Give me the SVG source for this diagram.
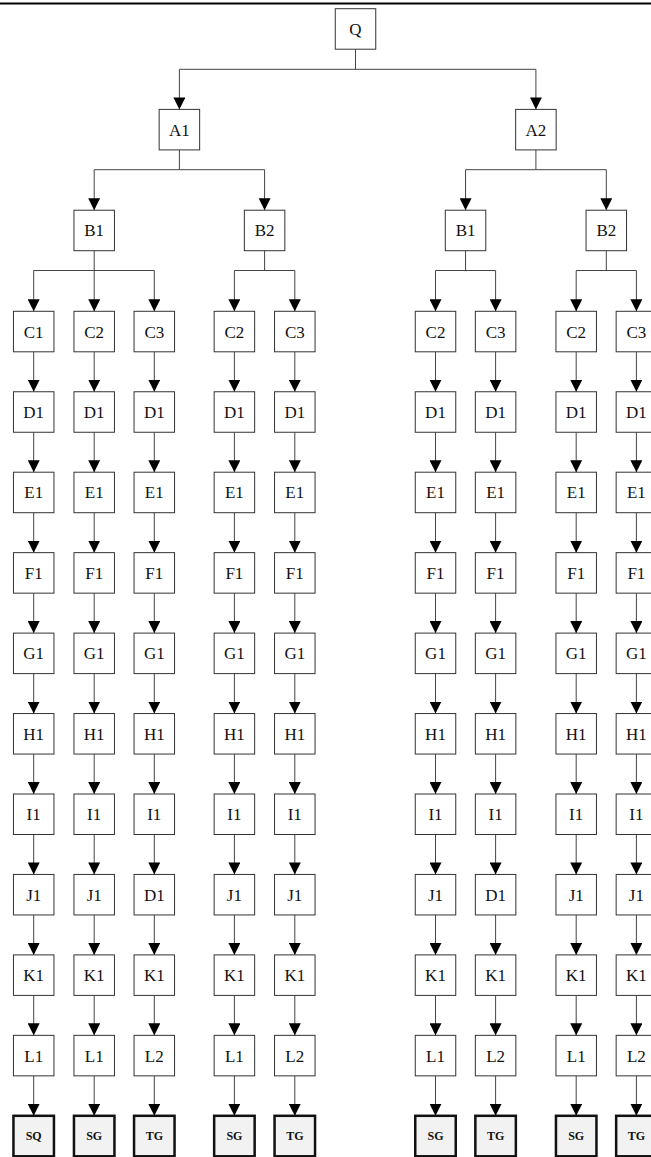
<svg xmlns="http://www.w3.org/2000/svg" width="651" height="1157" viewBox="0 0 651 1157">
<style>
.n rect{fill:#fff;stroke:#333;stroke-width:1}
.n text{font-family:"Liberation Serif","Times New Roman",serif;font-size:17px;text-anchor:middle;fill:#111}
.t rect{fill:#f2f2f2;stroke:#111;stroke-width:2.5}
.t text{font-family:"Liberation Serif","Times New Roman",serif;font-size:12px;font-weight:bold;text-anchor:middle;fill:#111}
.e line,.e path{stroke:#444;stroke-width:1;fill:none}
.e .a{marker-end:url(#ah)}
</style>
<defs>
<marker id="ah" viewBox="0 0 12 12" refX="12" refY="6" markerWidth="12" markerHeight="12" markerUnits="userSpaceOnUse" orient="auto">
<path d="M0,0 L12,6 L0,12 z" fill="#000"/>
</marker>
<rect id="bx" width="40.5" height="40.5"/>
</defs>
<line x1="0" y1="3.5" x2="651" y2="3.5" stroke="#000" stroke-width="2"/>
<g id="connectors" class="e">
<!-- Q to A -->
<path d="M355.5,49.2 V69.3 M179.4,69.3 H535.9"/>
<line class="a" x1="179.4" y1="69.3" x2="179.4" y2="109.4"/>
<line class="a" x1="535.9" y1="69.3" x2="535.9" y2="109.4"/>
<!-- A1 to B -->
<path d="M179.4,149.9 V169.7 M94.2,169.7 H264.6"/>
<line class="a" x1="94.2" y1="169.7" x2="94.2" y2="210.2"/>
<line class="a" x1="264.6" y1="169.7" x2="264.6" y2="210.2"/>
<!-- A2 to B -->
<path d="M535.9,149.9 V169.7 M465.55,169.7 H606.3"/>
<line class="a" x1="465.55" y1="169.7" x2="465.55" y2="210.2"/>
<line class="a" x1="606.3" y1="169.7" x2="606.3" y2="210.2"/>
<!-- B to C -->
<path d="M94.2,250.7 V270.5 M33.7,270.5 H154.3"/>
<line class="a" x1="33.7" y1="270.5" x2="33.7" y2="311.3"/>
<line class="a" x1="94.2" y1="270.5" x2="94.2" y2="311.3"/>
<line class="a" x1="154.3" y1="270.5" x2="154.3" y2="311.3"/>
<path d="M264.6,250.7 V270.5 M234.4,270.5 H294.8"/>
<line class="a" x1="234.4" y1="270.5" x2="234.4" y2="311.3"/>
<line class="a" x1="294.8" y1="270.5" x2="294.8" y2="311.3"/>
<path d="M465.55,250.7 V270.5 M435.5,270.5 H495.6"/>
<line class="a" x1="435.5" y1="270.5" x2="435.5" y2="311.3"/>
<line class="a" x1="495.6" y1="270.5" x2="495.6" y2="311.3"/>
<path d="M606.3,250.7 V270.5 M576.2,270.5 H636.4"/>
<line class="a" x1="576.2" y1="270.5" x2="576.2" y2="311.3"/>
<line class="a" x1="636.4" y1="270.5" x2="636.4" y2="311.3"/>
<!-- chains: one group per column, offset by translate -->
<g id="chain1" transform="translate(33.7,0)">
<line class="a" x1="0" y1="351.8" x2="0" y2="391.75"/>
<line class="a" x1="0" y1="432.25" x2="0" y2="472.2"/>
<line class="a" x1="0" y1="512.7" x2="0" y2="552.65"/>
<line class="a" x1="0" y1="593.15" x2="0" y2="633.1"/>
<line class="a" x1="0" y1="673.6" x2="0" y2="713.55"/>
<line class="a" x1="0" y1="754.05" x2="0" y2="794"/>
<line class="a" x1="0" y1="834.5" x2="0" y2="874.45"/>
<line class="a" x1="0" y1="914.95" x2="0" y2="954.9"/>
<line class="a" x1="0" y1="995.4" x2="0" y2="1035.35"/>
<line class="a" x1="0" y1="1075.85" x2="0" y2="1115.8"/>
</g>
<g transform="translate(94.2,0)">
<line class="a" x1="0" y1="351.8" x2="0" y2="391.75"/>
<line class="a" x1="0" y1="432.25" x2="0" y2="472.2"/>
<line class="a" x1="0" y1="512.7" x2="0" y2="552.65"/>
<line class="a" x1="0" y1="593.15" x2="0" y2="633.1"/>
<line class="a" x1="0" y1="673.6" x2="0" y2="713.55"/>
<line class="a" x1="0" y1="754.05" x2="0" y2="794"/>
<line class="a" x1="0" y1="834.5" x2="0" y2="874.45"/>
<line class="a" x1="0" y1="914.95" x2="0" y2="954.9"/>
<line class="a" x1="0" y1="995.4" x2="0" y2="1035.35"/>
<line class="a" x1="0" y1="1075.85" x2="0" y2="1115.8"/>
</g>
<g transform="translate(154.3,0)">
<line class="a" x1="0" y1="351.8" x2="0" y2="391.75"/>
<line class="a" x1="0" y1="432.25" x2="0" y2="472.2"/>
<line class="a" x1="0" y1="512.7" x2="0" y2="552.65"/>
<line class="a" x1="0" y1="593.15" x2="0" y2="633.1"/>
<line class="a" x1="0" y1="673.6" x2="0" y2="713.55"/>
<line class="a" x1="0" y1="754.05" x2="0" y2="794"/>
<line class="a" x1="0" y1="834.5" x2="0" y2="874.45"/>
<line class="a" x1="0" y1="914.95" x2="0" y2="954.9"/>
<line class="a" x1="0" y1="995.4" x2="0" y2="1035.35"/>
<line class="a" x1="0" y1="1075.85" x2="0" y2="1115.8"/>
</g>
<g transform="translate(234.4,0)">
<line class="a" x1="0" y1="351.8" x2="0" y2="391.75"/>
<line class="a" x1="0" y1="432.25" x2="0" y2="472.2"/>
<line class="a" x1="0" y1="512.7" x2="0" y2="552.65"/>
<line class="a" x1="0" y1="593.15" x2="0" y2="633.1"/>
<line class="a" x1="0" y1="673.6" x2="0" y2="713.55"/>
<line class="a" x1="0" y1="754.05" x2="0" y2="794"/>
<line class="a" x1="0" y1="834.5" x2="0" y2="874.45"/>
<line class="a" x1="0" y1="914.95" x2="0" y2="954.9"/>
<line class="a" x1="0" y1="995.4" x2="0" y2="1035.35"/>
<line class="a" x1="0" y1="1075.85" x2="0" y2="1115.8"/>
</g>
<g transform="translate(294.8,0)">
<line class="a" x1="0" y1="351.8" x2="0" y2="391.75"/>
<line class="a" x1="0" y1="432.25" x2="0" y2="472.2"/>
<line class="a" x1="0" y1="512.7" x2="0" y2="552.65"/>
<line class="a" x1="0" y1="593.15" x2="0" y2="633.1"/>
<line class="a" x1="0" y1="673.6" x2="0" y2="713.55"/>
<line class="a" x1="0" y1="754.05" x2="0" y2="794"/>
<line class="a" x1="0" y1="834.5" x2="0" y2="874.45"/>
<line class="a" x1="0" y1="914.95" x2="0" y2="954.9"/>
<line class="a" x1="0" y1="995.4" x2="0" y2="1035.35"/>
<line class="a" x1="0" y1="1075.85" x2="0" y2="1115.8"/>
</g>
<g transform="translate(435.5,0)">
<line class="a" x1="0" y1="351.8" x2="0" y2="391.75"/>
<line class="a" x1="0" y1="432.25" x2="0" y2="472.2"/>
<line class="a" x1="0" y1="512.7" x2="0" y2="552.65"/>
<line class="a" x1="0" y1="593.15" x2="0" y2="633.1"/>
<line class="a" x1="0" y1="673.6" x2="0" y2="713.55"/>
<line class="a" x1="0" y1="754.05" x2="0" y2="794"/>
<line class="a" x1="0" y1="834.5" x2="0" y2="874.45"/>
<line class="a" x1="0" y1="914.95" x2="0" y2="954.9"/>
<line class="a" x1="0" y1="995.4" x2="0" y2="1035.35"/>
<line class="a" x1="0" y1="1075.85" x2="0" y2="1115.8"/>
</g>
<g transform="translate(495.6,0)">
<line class="a" x1="0" y1="351.8" x2="0" y2="391.75"/>
<line class="a" x1="0" y1="432.25" x2="0" y2="472.2"/>
<line class="a" x1="0" y1="512.7" x2="0" y2="552.65"/>
<line class="a" x1="0" y1="593.15" x2="0" y2="633.1"/>
<line class="a" x1="0" y1="673.6" x2="0" y2="713.55"/>
<line class="a" x1="0" y1="754.05" x2="0" y2="794"/>
<line class="a" x1="0" y1="834.5" x2="0" y2="874.45"/>
<line class="a" x1="0" y1="914.95" x2="0" y2="954.9"/>
<line class="a" x1="0" y1="995.4" x2="0" y2="1035.35"/>
<line class="a" x1="0" y1="1075.85" x2="0" y2="1115.8"/>
</g>
<g transform="translate(576.2,0)">
<line class="a" x1="0" y1="351.8" x2="0" y2="391.75"/>
<line class="a" x1="0" y1="432.25" x2="0" y2="472.2"/>
<line class="a" x1="0" y1="512.7" x2="0" y2="552.65"/>
<line class="a" x1="0" y1="593.15" x2="0" y2="633.1"/>
<line class="a" x1="0" y1="673.6" x2="0" y2="713.55"/>
<line class="a" x1="0" y1="754.05" x2="0" y2="794"/>
<line class="a" x1="0" y1="834.5" x2="0" y2="874.45"/>
<line class="a" x1="0" y1="914.95" x2="0" y2="954.9"/>
<line class="a" x1="0" y1="995.4" x2="0" y2="1035.35"/>
<line class="a" x1="0" y1="1075.85" x2="0" y2="1115.8"/>
</g>
<g transform="translate(636.4,0)">
<line class="a" x1="0" y1="351.8" x2="0" y2="391.75"/>
<line class="a" x1="0" y1="432.25" x2="0" y2="472.2"/>
<line class="a" x1="0" y1="512.7" x2="0" y2="552.65"/>
<line class="a" x1="0" y1="593.15" x2="0" y2="633.1"/>
<line class="a" x1="0" y1="673.6" x2="0" y2="713.55"/>
<line class="a" x1="0" y1="754.05" x2="0" y2="794"/>
<line class="a" x1="0" y1="834.5" x2="0" y2="874.45"/>
<line class="a" x1="0" y1="914.95" x2="0" y2="954.9"/>
<line class="a" x1="0" y1="995.4" x2="0" y2="1035.35"/>
<line class="a" x1="0" y1="1075.85" x2="0" y2="1115.8"/>
</g>
</g>
<!-- tree nodes -->
<g id="Q" class="n"><rect x="335.25" y="8.7" width="40.5" height="40.5"/><text x="355.5" y="34.95">Q</text></g>
<g id="A1" class="n"><rect x="159.15" y="109.4" width="40.5" height="40.5"/><text x="179.4" y="135.65">A1</text></g>
<g id="A2" class="n"><rect x="515.65" y="109.4" width="40.5" height="40.5"/><text x="535.9" y="135.65">A2</text></g>
<g id="A1-B1" class="n"><rect x="73.95" y="210.2" width="40.5" height="40.5"/><text x="94.2" y="236.45">B1</text></g>
<g id="A1-B2" class="n"><rect x="244.35" y="210.2" width="40.5" height="40.5"/><text x="264.6" y="236.45">B2</text></g>
<g id="A2-B1" class="n"><rect x="445.3" y="210.2" width="40.5" height="40.5"/><text x="465.55" y="236.45">B1</text></g>
<g id="A2-B2" class="n"><rect x="586.05" y="210.2" width="40.5" height="40.5"/><text x="606.3" y="236.45">B2</text></g>
<!-- column 1 -->
<g id="col1">
<g id="c1-C" class="n"><rect x="13.45" y="311.3" width="40.5" height="40.5"/><text x="33.7" y="337.55">C1</text></g>
<g id="c1-D" class="n"><rect x="13.45" y="391.75" width="40.5" height="40.5"/><text x="33.7" y="418">D1</text></g>
<g id="c1-E" class="n"><rect x="13.45" y="472.2" width="40.5" height="40.5"/><text x="33.7" y="498.45">E1</text></g>
<g id="c1-F" class="n"><rect x="13.45" y="552.65" width="40.5" height="40.5"/><text x="33.7" y="578.9">F1</text></g>
<g id="c1-G" class="n"><rect x="13.45" y="633.1" width="40.5" height="40.5"/><text x="33.7" y="659.35">G1</text></g>
<g id="c1-H" class="n"><rect x="13.45" y="713.55" width="40.5" height="40.5"/><text x="33.7" y="739.8">H1</text></g>
<g id="c1-I" class="n"><rect x="13.45" y="794" width="40.5" height="40.5"/><text x="33.7" y="820.25">I1</text></g>
<g id="c1-J" class="n"><rect x="13.45" y="874.45" width="40.5" height="40.5"/><text x="33.7" y="900.7">J1</text></g>
<g id="c1-K" class="n"><rect x="13.45" y="954.9" width="40.5" height="40.5"/><text x="33.7" y="981.15">K1</text></g>
<g id="c1-L" class="n"><rect x="13.45" y="1035.35" width="40.5" height="40.5"/><text x="33.7" y="1061.6">L1</text></g>
<g id="c1-S" class="t"><rect x="13.45" y="1115.8" width="40.5" height="40.5"/><text x="33.7" y="1140.4">SQ</text></g>
</g>
<!-- column 2 -->
<g id="col2">
<g id="c2-C" class="n"><rect x="73.95" y="311.3" width="40.5" height="40.5"/><text x="94.2" y="337.55">C2</text></g>
<g id="c2-D" class="n"><rect x="73.95" y="391.75" width="40.5" height="40.5"/><text x="94.2" y="418">D1</text></g>
<g id="c2-E" class="n"><rect x="73.95" y="472.2" width="40.5" height="40.5"/><text x="94.2" y="498.45">E1</text></g>
<g id="c2-F" class="n"><rect x="73.95" y="552.65" width="40.5" height="40.5"/><text x="94.2" y="578.9">F1</text></g>
<g id="c2-G" class="n"><rect x="73.95" y="633.1" width="40.5" height="40.5"/><text x="94.2" y="659.35">G1</text></g>
<g id="c2-H" class="n"><rect x="73.95" y="713.55" width="40.5" height="40.5"/><text x="94.2" y="739.8">H1</text></g>
<g id="c2-I" class="n"><rect x="73.95" y="794" width="40.5" height="40.5"/><text x="94.2" y="820.25">I1</text></g>
<g id="c2-J" class="n"><rect x="73.95" y="874.45" width="40.5" height="40.5"/><text x="94.2" y="900.7">J1</text></g>
<g id="c2-K" class="n"><rect x="73.95" y="954.9" width="40.5" height="40.5"/><text x="94.2" y="981.15">K1</text></g>
<g id="c2-L" class="n"><rect x="73.95" y="1035.35" width="40.5" height="40.5"/><text x="94.2" y="1061.6">L1</text></g>
<g id="c2-S" class="t"><rect x="73.95" y="1115.8" width="40.5" height="40.5"/><text x="94.2" y="1140.4">SG</text></g>
</g>
<!-- column 3 -->
<g id="col3">
<g id="c3-C" class="n"><rect x="134.05" y="311.3" width="40.5" height="40.5"/><text x="154.3" y="337.55">C3</text></g>
<g id="c3-D" class="n"><rect x="134.05" y="391.75" width="40.5" height="40.5"/><text x="154.3" y="418">D1</text></g>
<g id="c3-E" class="n"><rect x="134.05" y="472.2" width="40.5" height="40.5"/><text x="154.3" y="498.45">E1</text></g>
<g id="c3-F" class="n"><rect x="134.05" y="552.65" width="40.5" height="40.5"/><text x="154.3" y="578.9">F1</text></g>
<g id="c3-G" class="n"><rect x="134.05" y="633.1" width="40.5" height="40.5"/><text x="154.3" y="659.35">G1</text></g>
<g id="c3-H" class="n"><rect x="134.05" y="713.55" width="40.5" height="40.5"/><text x="154.3" y="739.8">H1</text></g>
<g id="c3-I" class="n"><rect x="134.05" y="794" width="40.5" height="40.5"/><text x="154.3" y="820.25">I1</text></g>
<g id="c3-J" class="n"><rect x="134.05" y="874.45" width="40.5" height="40.5"/><text x="154.3" y="900.7">D1</text></g>
<g id="c3-K" class="n"><rect x="134.05" y="954.9" width="40.5" height="40.5"/><text x="154.3" y="981.15">K1</text></g>
<g id="c3-L" class="n"><rect x="134.05" y="1035.35" width="40.5" height="40.5"/><text x="154.3" y="1061.6">L2</text></g>
<g id="c3-S" class="t"><rect x="134.05" y="1115.8" width="40.5" height="40.5"/><text x="154.3" y="1140.4">TG</text></g>
</g>
<!-- column 4 -->
<g id="col4">
<g id="c4-C" class="n"><rect x="214.15" y="311.3" width="40.5" height="40.5"/><text x="234.4" y="337.55">C2</text></g>
<g id="c4-D" class="n"><rect x="214.15" y="391.75" width="40.5" height="40.5"/><text x="234.4" y="418">D1</text></g>
<g id="c4-E" class="n"><rect x="214.15" y="472.2" width="40.5" height="40.5"/><text x="234.4" y="498.45">E1</text></g>
<g id="c4-F" class="n"><rect x="214.15" y="552.65" width="40.5" height="40.5"/><text x="234.4" y="578.9">F1</text></g>
<g id="c4-G" class="n"><rect x="214.15" y="633.1" width="40.5" height="40.5"/><text x="234.4" y="659.35">G1</text></g>
<g id="c4-H" class="n"><rect x="214.15" y="713.55" width="40.5" height="40.5"/><text x="234.4" y="739.8">H1</text></g>
<g id="c4-I" class="n"><rect x="214.15" y="794" width="40.5" height="40.5"/><text x="234.4" y="820.25">I1</text></g>
<g id="c4-J" class="n"><rect x="214.15" y="874.45" width="40.5" height="40.5"/><text x="234.4" y="900.7">J1</text></g>
<g id="c4-K" class="n"><rect x="214.15" y="954.9" width="40.5" height="40.5"/><text x="234.4" y="981.15">K1</text></g>
<g id="c4-L" class="n"><rect x="214.15" y="1035.35" width="40.5" height="40.5"/><text x="234.4" y="1061.6">L1</text></g>
<g id="c4-S" class="t"><rect x="214.15" y="1115.8" width="40.5" height="40.5"/><text x="234.4" y="1140.4">SG</text></g>
</g>
<!-- column 5 -->
<g id="col5">
<g id="c5-C" class="n"><rect x="274.55" y="311.3" width="40.5" height="40.5"/><text x="294.8" y="337.55">C3</text></g>
<g id="c5-D" class="n"><rect x="274.55" y="391.75" width="40.5" height="40.5"/><text x="294.8" y="418">D1</text></g>
<g id="c5-E" class="n"><rect x="274.55" y="472.2" width="40.5" height="40.5"/><text x="294.8" y="498.45">E1</text></g>
<g id="c5-F" class="n"><rect x="274.55" y="552.65" width="40.5" height="40.5"/><text x="294.8" y="578.9">F1</text></g>
<g id="c5-G" class="n"><rect x="274.55" y="633.1" width="40.5" height="40.5"/><text x="294.8" y="659.35">G1</text></g>
<g id="c5-H" class="n"><rect x="274.55" y="713.55" width="40.5" height="40.5"/><text x="294.8" y="739.8">H1</text></g>
<g id="c5-I" class="n"><rect x="274.55" y="794" width="40.5" height="40.5"/><text x="294.8" y="820.25">I1</text></g>
<g id="c5-J" class="n"><rect x="274.55" y="874.45" width="40.5" height="40.5"/><text x="294.8" y="900.7">J1</text></g>
<g id="c5-K" class="n"><rect x="274.55" y="954.9" width="40.5" height="40.5"/><text x="294.8" y="981.15">K1</text></g>
<g id="c5-L" class="n"><rect x="274.55" y="1035.35" width="40.5" height="40.5"/><text x="294.8" y="1061.6">L2</text></g>
<g id="c5-S" class="t"><rect x="274.55" y="1115.8" width="40.5" height="40.5"/><text x="294.8" y="1140.4">TG</text></g>
</g>
<!-- column 6 -->
<g id="col6">
<g id="c6-C" class="n"><rect x="415.25" y="311.3" width="40.5" height="40.5"/><text x="435.5" y="337.55">C2</text></g>
<g id="c6-D" class="n"><rect x="415.25" y="391.75" width="40.5" height="40.5"/><text x="435.5" y="418">D1</text></g>
<g id="c6-E" class="n"><rect x="415.25" y="472.2" width="40.5" height="40.5"/><text x="435.5" y="498.45">E1</text></g>
<g id="c6-F" class="n"><rect x="415.25" y="552.65" width="40.5" height="40.5"/><text x="435.5" y="578.9">F1</text></g>
<g id="c6-G" class="n"><rect x="415.25" y="633.1" width="40.5" height="40.5"/><text x="435.5" y="659.35">G1</text></g>
<g id="c6-H" class="n"><rect x="415.25" y="713.55" width="40.5" height="40.5"/><text x="435.5" y="739.8">H1</text></g>
<g id="c6-I" class="n"><rect x="415.25" y="794" width="40.5" height="40.5"/><text x="435.5" y="820.25">I1</text></g>
<g id="c6-J" class="n"><rect x="415.25" y="874.45" width="40.5" height="40.5"/><text x="435.5" y="900.7">J1</text></g>
<g id="c6-K" class="n"><rect x="415.25" y="954.9" width="40.5" height="40.5"/><text x="435.5" y="981.15">K1</text></g>
<g id="c6-L" class="n"><rect x="415.25" y="1035.35" width="40.5" height="40.5"/><text x="435.5" y="1061.6">L1</text></g>
<g id="c6-S" class="t"><rect x="415.25" y="1115.8" width="40.5" height="40.5"/><text x="435.5" y="1140.4">SG</text></g>
</g>
<!-- column 7 -->
<g id="col7">
<g id="c7-C" class="n"><rect x="475.35" y="311.3" width="40.5" height="40.5"/><text x="495.6" y="337.55">C3</text></g>
<g id="c7-D" class="n"><rect x="475.35" y="391.75" width="40.5" height="40.5"/><text x="495.6" y="418">D1</text></g>
<g id="c7-E" class="n"><rect x="475.35" y="472.2" width="40.5" height="40.5"/><text x="495.6" y="498.45">E1</text></g>
<g id="c7-F" class="n"><rect x="475.35" y="552.65" width="40.5" height="40.5"/><text x="495.6" y="578.9">F1</text></g>
<g id="c7-G" class="n"><rect x="475.35" y="633.1" width="40.5" height="40.5"/><text x="495.6" y="659.35">G1</text></g>
<g id="c7-H" class="n"><rect x="475.35" y="713.55" width="40.5" height="40.5"/><text x="495.6" y="739.8">H1</text></g>
<g id="c7-I" class="n"><rect x="475.35" y="794" width="40.5" height="40.5"/><text x="495.6" y="820.25">I1</text></g>
<g id="c7-J" class="n"><rect x="475.35" y="874.45" width="40.5" height="40.5"/><text x="495.6" y="900.7">D1</text></g>
<g id="c7-K" class="n"><rect x="475.35" y="954.9" width="40.5" height="40.5"/><text x="495.6" y="981.15">K1</text></g>
<g id="c7-L" class="n"><rect x="475.35" y="1035.35" width="40.5" height="40.5"/><text x="495.6" y="1061.6">L2</text></g>
<g id="c7-S" class="t"><rect x="475.35" y="1115.8" width="40.5" height="40.5"/><text x="495.6" y="1140.4">TG</text></g>
</g>
<!-- column 8 -->
<g id="col8">
<g id="c8-C" class="n"><rect x="555.95" y="311.3" width="40.5" height="40.5"/><text x="576.2" y="337.55">C2</text></g>
<g id="c8-D" class="n"><rect x="555.95" y="391.75" width="40.5" height="40.5"/><text x="576.2" y="418">D1</text></g>
<g id="c8-E" class="n"><rect x="555.95" y="472.2" width="40.5" height="40.5"/><text x="576.2" y="498.45">E1</text></g>
<g id="c8-F" class="n"><rect x="555.95" y="552.65" width="40.5" height="40.5"/><text x="576.2" y="578.9">F1</text></g>
<g id="c8-G" class="n"><rect x="555.95" y="633.1" width="40.5" height="40.5"/><text x="576.2" y="659.35">G1</text></g>
<g id="c8-H" class="n"><rect x="555.95" y="713.55" width="40.5" height="40.5"/><text x="576.2" y="739.8">H1</text></g>
<g id="c8-I" class="n"><rect x="555.95" y="794" width="40.5" height="40.5"/><text x="576.2" y="820.25">I1</text></g>
<g id="c8-J" class="n"><rect x="555.95" y="874.45" width="40.5" height="40.5"/><text x="576.2" y="900.7">J1</text></g>
<g id="c8-K" class="n"><rect x="555.95" y="954.9" width="40.5" height="40.5"/><text x="576.2" y="981.15">K1</text></g>
<g id="c8-L" class="n"><rect x="555.95" y="1035.35" width="40.5" height="40.5"/><text x="576.2" y="1061.6">L1</text></g>
<g id="c8-S" class="t"><rect x="555.95" y="1115.8" width="40.5" height="40.5"/><text x="576.2" y="1140.4">SG</text></g>
</g>
<!-- column 9 -->
<g id="col9">
<g id="c9-C" class="n"><rect x="616.15" y="311.3" width="40.5" height="40.5"/><text x="636.4" y="337.55">C3</text></g>
<g id="c9-D" class="n"><rect x="616.15" y="391.75" width="40.5" height="40.5"/><text x="636.4" y="418">D1</text></g>
<g id="c9-E" class="n"><rect x="616.15" y="472.2" width="40.5" height="40.5"/><text x="636.4" y="498.45">E1</text></g>
<g id="c9-F" class="n"><rect x="616.15" y="552.65" width="40.5" height="40.5"/><text x="636.4" y="578.9">F1</text></g>
<g id="c9-G" class="n"><rect x="616.15" y="633.1" width="40.5" height="40.5"/><text x="636.4" y="659.35">G1</text></g>
<g id="c9-H" class="n"><rect x="616.15" y="713.55" width="40.5" height="40.5"/><text x="636.4" y="739.8">H1</text></g>
<g id="c9-I" class="n"><rect x="616.15" y="794" width="40.5" height="40.5"/><text x="636.4" y="820.25">I1</text></g>
<g id="c9-J" class="n"><rect x="616.15" y="874.45" width="40.5" height="40.5"/><text x="636.4" y="900.7">J1</text></g>
<g id="c9-K" class="n"><rect x="616.15" y="954.9" width="40.5" height="40.5"/><text x="636.4" y="981.15">K1</text></g>
<g id="c9-L" class="n"><rect x="616.15" y="1035.35" width="40.5" height="40.5"/><text x="636.4" y="1061.6">L2</text></g>
<g id="c9-S" class="t"><rect x="616.15" y="1115.8" width="40.5" height="40.5"/><text x="636.4" y="1140.4">TG</text></g>
</g>
</svg>
